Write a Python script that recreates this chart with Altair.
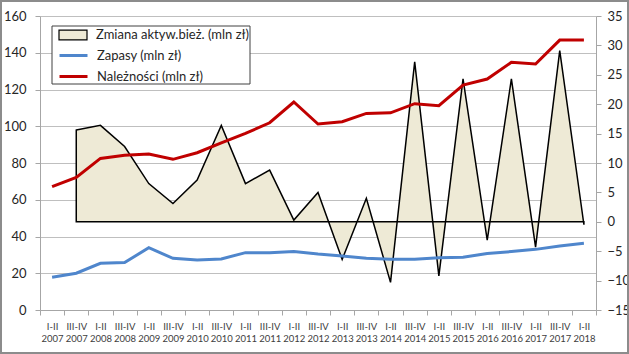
import altair as alt
import pandas as pd

halves = ["I-II", "III-IV"] * 11 + ["I-II"]
years = [str(y) for y in range(2007, 2018) for _ in range(2)] + ["2018"]
cats = [f"{h} {y}" for h, y in zip(halves, years)]

zmiana = [None, 15.6, 16.4, 12.8, 6.5, 3.1, 7.1, 16.4, 6.5, 8.8, 0.3, 5.0, -6.4,
          4.0, -10.3, 27.2, -9.2, 24.3, -3.1, 24.3, -4.3, 29.1, -0.5]
zapasy = [17.8, 20.0, 25.4, 25.8, 33.9, 28.1, 27.2, 27.8, 31.2, 31.2, 31.9, 30.5,
          29.4, 28.1, 27.6, 27.6, 28.5, 28.7, 30.8, 31.8, 33.0, 34.8, 36.3]
naleznosci = [67.1, 72.2, 82.5, 84.2, 84.9, 82.0, 85.6, 91.0, 96.1, 101.9, 113.2,
              101.2, 102.5, 107.0, 107.3, 112.3, 111.2, 122.4, 125.7, 134.8, 133.9,
              146.9, 146.9]

name_z = "Zmiana aktyw.bież. (mln zł)"
name_zap = "Zapasy (mln zł)"
name_n = "Należności (mln zł)"

df_area = pd.DataFrame({"cat": cats, "val": zmiana, "series": name_z}).dropna()
df_lines = pd.concat([
    pd.DataFrame({"cat": cats, "val": zapasy, "series": name_zap}),
    pd.DataFrame({"cat": cats, "val": naleznosci, "series": name_n}),
])

FONT = "Lato"
TXT = "#262626"
XTXT = "#404040"
GRID = "#BFBFBF"
AX = "#A6A6A6"

xenc = alt.X("cat:N", sort=cats, bandPosition=0.5,
             scale=alt.Scale(type="band", domain=cats, paddingInner=0, paddingOuter=0),
             axis=alt.Axis(title=None, labelAngle=0, labelExpr="split(datum.label, ' ')",
                           tickBand="extent", tickSize=5, tickColor=AX,
                           domainColor=AX, labelFontSize=9.5, labelFont=FONT,
                           labelColor=XTXT, labelPadding=6, labelLineHeight=12.5, grid=False))

one = pd.DataFrame({"a": [0]})
outer = alt.Chart(one).mark_rect(filled=False, stroke="#8C8C8C", strokeWidth=2).encode(
    x=alt.value(-39), x2=alt.value(588), y=alt.value(-15), y2=alt.value(337))

legbox = alt.Chart(one).mark_rect(fill="white", stroke="#404040", strokeWidth=1).encode(
    x=alt.value(12), x2=alt.value(210), y=alt.value(10), y2=alt.value(68))

area = alt.Chart(df_area).mark_area(stroke="black", strokeWidth=1.5, strokeJoin="miter").encode(
    x=xenc,
    y=alt.Y("val:Q", scale=alt.Scale(domain=[-15, 35], nice=False, zero=False),
            axis=alt.Axis(orient="right", title=None, values=list(range(-15, 40, 5)),
                          grid=False, tickSize=5, tickColor=AX, domainColor=AX,
                          labelFontSize=13, labelFont=FONT, labelColor=TXT, labelPadding=6)),
    y2=alt.datum(0),
    fill=alt.Fill("series:N", scale=alt.Scale(domain=[name_z], range=["#EEEAD6"]),
                  legend=alt.Legend(orient="none", legendX=25, legendY=11, title=None,
                                    symbolType="M-2,-0.7H2V0.7H-2Z", symbolSize=196,
                                    symbolStrokeColor="black", symbolStrokeWidth=1.2,
                                    labelFont=FONT, labelFontSize=13, labelColor=TXT,
                                    labelOffset=15, padding=0)),
)

lines = alt.Chart(df_lines).mark_line(strokeWidth=3).encode(
    x=xenc,
    y=alt.Y("val:Q", scale=alt.Scale(domain=[0, 160], nice=False),
            axis=alt.Axis(orient="left", title=None, values=list(range(0, 180, 20)),
                          grid=True, gridColor=GRID, tickSize=5, tickColor=AX,
                          domainColor=AX, labelFontSize=13, labelFont=FONT,
                          labelColor=TXT, labelPadding=9)),
    stroke=alt.Stroke("series:N", sort=[name_zap, name_n],
                      scale=alt.Scale(domain=[name_zap, name_n], range=["#4F86CC", "#C00000"]),
                      legend=alt.Legend(orient="none", legendX=25, legendY=31, title=None,
                                        symbolType="M-2,0H2", symbolSize=196,
                                        symbolStrokeWidth=3, labelFont=FONT, labelFontSize=13,
                                        labelColor=TXT, labelOffset=15, padding=0,
                                        rowPadding=5)),
    detail="series:N",
)

chart = alt.layer(outer, legbox, area, lines).resolve_scale(
    y="independent", fill="independent", stroke="independent"
).properties(
    width=556, height=294,
    autosize=alt.AutoSizeParams(type="none"),
    padding={"left": 40, "top": 16, "right": 33, "bottom": 44},
    background="white",
).configure_view(stroke=None)

chart.save("out.html", embed_options={"renderer": "svg", "actions": False})
